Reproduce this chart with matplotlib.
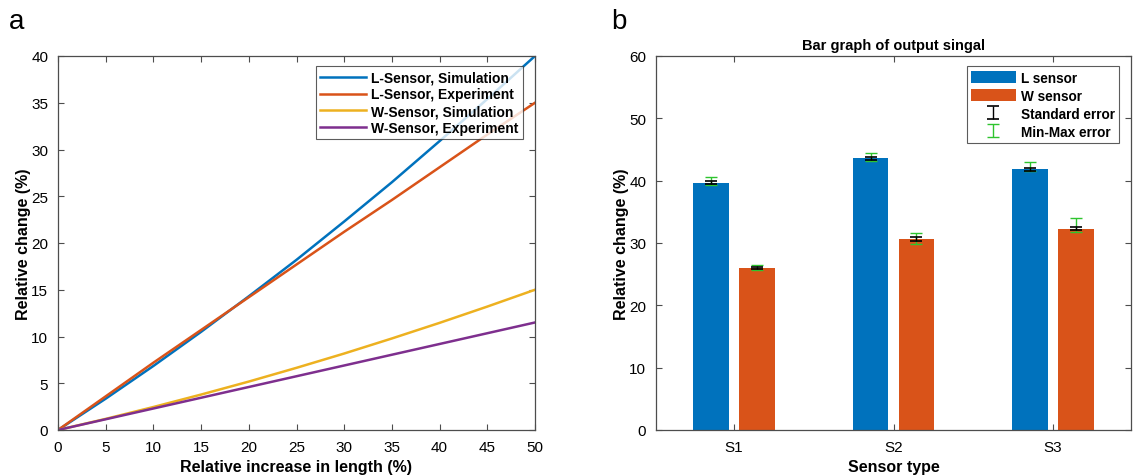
import matplotlib
matplotlib.use("Agg")
import matplotlib.pyplot as plt
import numpy as np
from matplotlib.patches import Patch

plt.rcParams['font.family'] = ['Liberation Sans', 'DejaVu Sans']

# ---- Data: panel a ----
strain = [0, 5, 10, 15, 20, 25, 30, 35, 40, 45, 50]
l_sim = [0, 3.35, 6.85, 10.5, 14.3, 18.2, 22.3, 26.5, 30.9, 35.4, 40.0]
l_exp = [0, 3.6, 7.2, 10.7, 14.2, 17.7, 21.2, 24.6, 28.1, 31.6, 35.0]
w_sim = [0, 1.19, 2.46, 3.79, 5.18, 6.65, 8.18, 9.79, 11.46, 13.2, 15.0]
w_exp = [0, 1.15, 2.3, 3.45, 4.6, 5.75, 6.9, 8.05, 9.2, 10.35, 11.5]
line_labels = ["L-Sensor, Simulation", "L-Sensor, Experiment",
               "W-Sensor, Simulation", "W-Sensor, Experiment"]

# ---- Data: panel b ----
sensors = ["S1", "S2", "S3"]
l_mean = [39.7, 43.6, 41.8]
w_mean = [26.0, 30.6, 32.3]
l_se = [0.2, 0.25, 0.2]
w_se = [0.2, 0.3, 0.25]
l_min = [39.3, 43.2, 41.6]
l_max = [40.6, 44.4, 43.0]
w_min = [25.7, 29.9, 31.8]
w_max = [26.5, 31.6, 34.0]
bar_labels = ["L sensor", "W sensor", "Standard error", "Min-Max error"]

blue = '#0072BD'
orange = '#D95319'
yellow = '#EDB120'
purple = '#7E2F8E'
green = '#2EC42E'
spine_c = '#4d4d4d'

fig = plt.figure(figsize=(11.41, 4.77), dpi=100)
ax1 = fig.add_axes([58/1141, 46/477, 477/1141, 374/477])
ax2 = fig.add_axes([656/1141, 46/477, 475/1141, 374/477])

def style(ax):
    for s in ax.spines.values():
        s.set_color(spine_c)
        s.set_linewidth(0.9)
    ax.tick_params(direction='in', top=True, right=True, length=4,
                   width=0.8, color=spine_c, labelsize=11, pad=7)

# Panel a
ax1.plot(strain, l_sim, color=blue, lw=1.8, label=line_labels[0])
ax1.plot(strain, l_exp, color=orange, lw=1.8, label=line_labels[1])
ax1.plot(strain, w_sim, color=yellow, lw=1.8, label=line_labels[2])
ax1.plot(strain, w_exp, color=purple, lw=1.8, label=line_labels[3])
ax1.set_xlim(0, 50)
ax1.set_ylim(0, 40)
ax1.set_xticks(range(0, 51, 5))
ax1.set_yticks(range(0, 41, 5))
style(ax1)
ax1.set_xlabel("Relative increase in length (%)", fontweight='bold', fontsize=11.5, labelpad=4)
ax1.set_ylabel("Relative change (%)", fontweight='bold', fontsize=11.5, labelpad=0)
leg1 = ax1.legend(loc='upper right', bbox_to_anchor=(0.974, 0.972),
                  prop={'weight': 'bold', 'size': 10}, frameon=True, fancybox=False,
                  borderpad=0.3, handlelength=3.3, handletextpad=0.4, labelspacing=0.2,
                  borderaxespad=0)
leg1.get_frame().set_edgecolor('#333333')
leg1.get_frame().set_linewidth(0.8)
fig.text(9/1141, 1 - 22/477, "a", fontsize=20, va='center', ha='left')

# Panel b
x = np.arange(1, len(sensors) + 1)
off = 0.144
bw = 0.225
b1 = ax2.bar(x - off, l_mean, width=bw, color=blue, zorder=2)
b2 = ax2.bar(x + off, w_mean, width=bw, color=orange, zorder=2)
xs = np.concatenate([x - off, x + off])
means = np.array(l_mean + w_mean)
se = np.array(l_se + w_se)
mins = np.array(l_min + w_min)
maxs = np.array(l_max + w_max)
e_mm = ax2.errorbar(xs, means, yerr=[means - mins, maxs - means], fmt='none',
                    ecolor=green, elinewidth=1.0, capsize=4, capthick=1.0, zorder=3)
e_se = ax2.errorbar(xs, means, yerr=se, fmt='none', ecolor='black',
                    elinewidth=1.0, capsize=4, capthick=1.2, zorder=4)
ax2.set_xlim(0.51, 3.49)
ax2.set_ylim(0, 60)
ax2.set_xticks(x)
ax2.set_xticklabels(sensors)
ax2.set_yticks(range(0, 61, 10))
style(ax2)
ax2.set_xlabel("Sensor type", fontweight='bold', fontsize=11.5, labelpad=4)
ax2.set_ylabel("Relative change (%)", fontweight='bold', fontsize=11.5, labelpad=0)
ax2.set_title("Bar graph of output singal", fontweight='bold', fontsize=10.5, pad=5)

handles = [Patch(facecolor=blue, edgecolor='none'),
           Patch(facecolor=orange, edgecolor='none'),
           e_se, e_mm]
leg2 = ax2.legend(handles, bar_labels,
                  loc='upper right', bbox_to_anchor=(0.975, 0.972),
                  prop={'weight': 'bold', 'size': 9.8}, frameon=True, fancybox=False,
                  borderpad=0.3, handlelength=3.3, handleheight=1.0,
                  handletextpad=0.4, labelspacing=0.3, borderaxespad=0)
leg2.get_frame().set_edgecolor('#333333')
leg2.get_frame().set_linewidth(0.8)
fig.text(611/1141, 1 - 22/477, "b", fontsize=20, va='center', ha='left')

fig.savefig("out.png", dpi=100)
